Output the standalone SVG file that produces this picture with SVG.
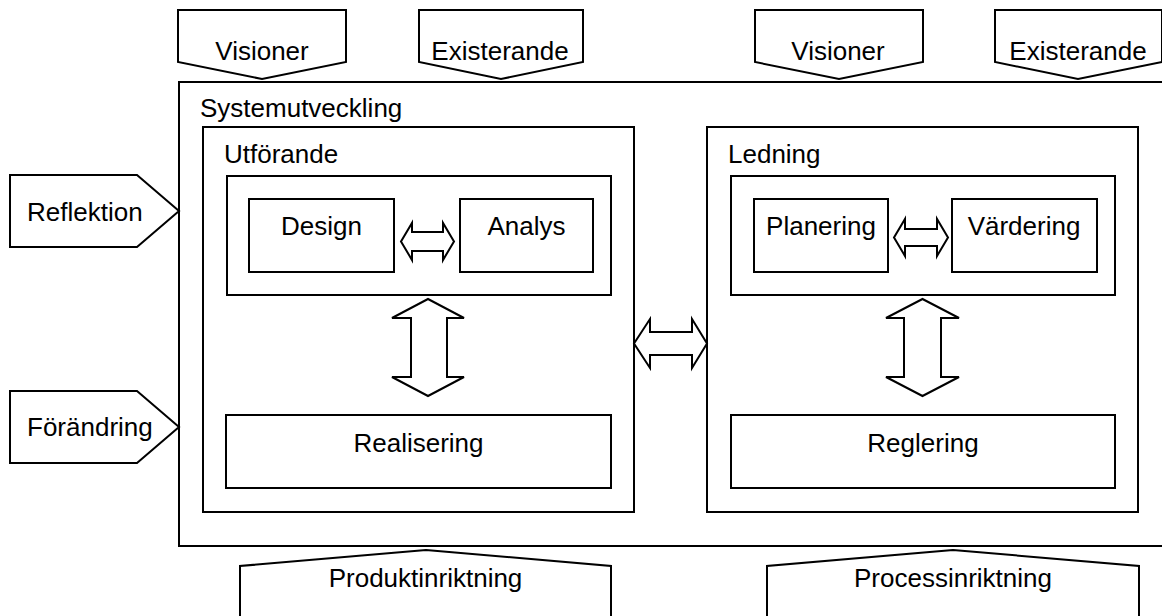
<svg xmlns="http://www.w3.org/2000/svg" width="1162" height="616" viewBox="0 0 1162 616">
  <style>
    .box { fill: #ffffff; stroke: #000000; stroke-width: 2; }
    .arrow { fill: #ffffff; stroke: #000000; stroke-width: 2; stroke-linejoin: miter; }
    text { font-family: "Liberation Sans", Arial, sans-serif; font-size: 26px; fill: #000000; }
    .mid { text-anchor: middle; }
  </style>
  <rect x="0" y="0" width="1162" height="616" fill="#ffffff"/>

  <!-- outer frame -->
  <g id="systemutveckling">
    <rect class="box" x="179" y="82" width="1000" height="464"/>
    <text x="200" y="117">Systemutveckling</text>
  </g>

  <!-- inputs from above -->
  <g id="visioner-1">
    <polygon class="box" points="178,10 346,10 346,62 262,79 178,62"/>
    <text class="mid" x="262" y="60">Visioner</text>
  </g>
  <g id="existerande-1">
    <polygon class="box" points="419,10 583,10 583,62 501,79 419,62"/>
    <text class="mid" x="500" y="60">Existerande</text>
  </g>
  <g id="visioner-2">
    <polygon class="box" points="755,10 923,10 923,62 839,79 755,62"/>
    <text class="mid" x="838" y="60">Visioner</text>
  </g>
  <g id="existerande-2">
    <polygon class="box" points="995,10 1162,10 1162,62 1078,79 995,62"/>
    <text class="mid" x="1078" y="60">Existerande</text>
  </g>

  <!-- inputs from the left -->
  <g id="reflektion">
    <polygon class="box" points="10,175 137,175 179,211 137,247 10,247"/>
    <text x="27" y="221">Reflektion</text>
  </g>
  <g id="forandring">
    <polygon class="box" points="10,391 137,391 179,427 137,463 10,463"/>
    <text x="27" y="436">Förändring</text>
  </g>

  <!-- Utförande -->
  <g id="utforande">
    <rect class="box" x="203" y="127" width="431" height="385"/>
    <text x="224" y="163">Utförande</text>
    <rect class="box" x="227" y="176" width="384" height="119"/>
  </g>
  <g id="design">
    <rect class="box" x="249" y="199" width="145" height="73"/>
    <text class="mid" x="321.5" y="235">Design</text>
  </g>
  <g id="analys">
    <rect class="box" x="460" y="199" width="133" height="73"/>
    <text class="mid" x="526.5" y="235">Analys</text>
  </g>
  <g id="realisering">
    <rect class="box" x="226" y="415" width="385" height="73"/>
    <text class="mid" x="418.5" y="452">Realisering</text>
  </g>

  <!-- Ledning -->
  <g id="ledning">
    <rect class="box" x="707" y="127" width="431" height="385"/>
    <text x="728" y="163">Ledning</text>
    <rect class="box" x="731" y="176" width="384" height="119"/>
  </g>
  <g id="planering">
    <rect class="box" x="754" y="199" width="134" height="73"/>
    <text class="mid" x="821" y="235">Planering</text>
  </g>
  <g id="vardering">
    <rect class="box" x="952" y="199" width="145" height="73"/>
    <text class="mid" x="1024" y="235">Värdering</text>
  </g>
  <g id="reglering">
    <rect class="box" x="731" y="415" width="384" height="73"/>
    <text class="mid" x="923" y="452">Reglering</text>
  </g>

  <!-- outputs below -->
  <g id="produktinriktning">
    <polygon class="box" points="240,620 240,566 426,550 611,566 611,620"/>
    <text class="mid" x="425.5" y="587">Produktinriktning</text>
  </g>
  <g id="processinriktning">
    <polygon class="box" points="767,620 767,566 953,550 1139,566 1139,620"/>
    <text class="mid" x="953" y="587">Processinriktning</text>
  </g>

  <!-- two-way block arrows -->
  <g id="connectors">
    <polygon class="arrow" points="401,241.5 412,223 412,232 443,232 443,223 454,241.5 443,260 443,251 412,251 412,260"/>
    <polygon class="arrow" points="428,299 464,318 447,318 447,377 464,377 428,396 392,377 411,377 411,318 392,318"/>
    <polygon class="arrow" points="634,343.5 650,319 650,332 692,332 692,319 707,343.5 692,368 692,355 650,355 650,368"/>
    <polygon class="arrow" points="894,237.5 905,219 905,229 937,229 937,219 948,237.5 937,256 937,246 905,246 905,256"/>
    <polygon class="arrow" points="922.5,299 959,318 941,318 941,377 959,377 922.5,396 886,377 904,377 904,318 886,318"/>
  </g>
</svg>
